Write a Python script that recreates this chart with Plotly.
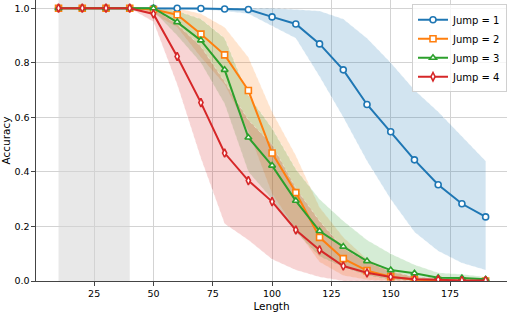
import plotly.graph_objects as go

lengths = [10, 20, 30, 40, 50, 60, 70, 80, 90, 100, 110, 120, 130, 140, 150, 160, 170, 180, 190]

jump1_mean = [1.0, 1.0, 1.0, 1.0, 1.0, 1.0, 0.999, 0.997, 0.995, 0.968, 0.942, 0.869, 0.774, 0.647, 0.547, 0.444, 0.353, 0.283, 0.235]
jump1_low  = [1.0, 1.0, 1.0, 1.0, 1.0, 0.998, 0.995, 0.99, 0.98, 0.935, 0.89, 0.75, 0.60, 0.44, 0.30, 0.18, 0.11, 0.066, 0.04]
jump1_high = [1.0, 1.0, 1.0, 1.0, 1.0, 1.0, 1.0, 1.0, 1.0, 1.0, 0.995, 0.99, 0.96, 0.89, 0.80, 0.70, 0.62, 0.53, 0.44]

jump2_mean = [1.0, 1.0, 1.0, 1.0, 0.995, 0.976, 0.905, 0.829, 0.698, 0.469, 0.324, 0.160, 0.082, 0.038, 0.016, 0.005, 0.002, 0.001, 0.0]
jump2_low  = [1.0, 1.0, 1.0, 1.0, 0.98, 0.93, 0.82, 0.72, 0.55, 0.32, 0.19, 0.07, 0.02, 0.005, 0.0, 0.0, 0.0, 0.0, 0.0]
jump2_high = [1.0, 1.0, 1.0, 1.0, 1.0, 1.0, 0.98, 0.93, 0.82, 0.62, 0.46, 0.27, 0.16, 0.08, 0.04, 0.015, 0.006, 0.003, 0.001]

jump3_mean = [1.0, 1.0, 1.0, 1.0, 1.0, 0.949, 0.882, 0.774, 0.526, 0.423, 0.294, 0.183, 0.126, 0.073, 0.040, 0.028, 0.012, 0.011, 0.006]
jump3_low  = [1.0, 1.0, 1.0, 1.0, 0.99, 0.90, 0.80, 0.65, 0.40, 0.30, 0.18, 0.09, 0.05, 0.02, 0.005, 0.0, 0.0, 0.0, 0.0]
jump3_high = [1.0, 1.0, 1.0, 1.0, 1.0, 0.99, 0.96, 0.89, 0.68, 0.56, 0.41, 0.30, 0.22, 0.15, 0.10, 0.06, 0.03, 0.025, 0.015]

jump4_mean = [1.0, 1.0, 1.0, 1.0, 0.979, 0.823, 0.654, 0.469, 0.368, 0.291, 0.187, 0.114, 0.055, 0.030, 0.015, 0.006, 0.005, 0.002, 0.002]
jump4_low  = [1.0, 1.0, 1.0, 1.0, 0.95, 0.72, 0.45, 0.21, 0.15, 0.08, 0.04, 0.015, 0.0, 0.0, 0.0, 0.0, 0.0, 0.0, 0.0]
jump4_high = [1.0, 1.0, 1.0, 1.0, 1.0, 0.94, 0.86, 0.73, 0.59, 0.50, 0.34, 0.22, 0.12, 0.07, 0.035, 0.015, 0.012, 0.006, 0.005]

series_names = ["Jump = 1", "Jump = 2", "Jump = 3", "Jump = 4"]
colors = ["#1f77b4", "#ff7f0e", "#2ca02c", "#d62728"]
fills = ["rgba(31,119,180,0.2)", "rgba(255,127,14,0.2)", "rgba(44,160,44,0.2)", "rgba(214,39,40,0.2)"]
symbols = ["circle", "square", "triangle-up", "diamond-tall"]
means = [jump1_mean, jump2_mean, jump3_mean, jump4_mean]
lows = [jump1_low, jump2_low, jump3_low, jump4_low]
highs = [jump1_high, jump2_high, jump3_high, jump4_high]

train_span = [10, 40]

fig = go.Figure()

for i in range(4):
    fig.add_trace(go.Scatter(x=lengths, y=lows[i], mode="lines",
                             line=dict(width=0.8, color="rgba(255,255,255,0.5)", dash="dot"),
                             showlegend=False, hoverinfo="skip"))
    fig.add_trace(go.Scatter(x=lengths, y=highs[i], mode="lines", fill="tonexty",
                             fillcolor=fills[i],
                             line=dict(width=0.8, color="rgba(255,255,255,0.5)", dash="dot"),
                             showlegend=False, hoverinfo="skip"))

for i in range(4):
    fig.add_trace(go.Scatter(x=lengths, y=means[i], mode="lines+markers", name=series_names[i],
                             line=dict(color=colors[i], width=2),
                             marker=dict(symbol=symbols[i], size=6, color="white",
                                         line=dict(color=colors[i], width=1.6))))

fig.add_shape(type="rect", xref="x", yref="paper", x0=train_span[0], x1=train_span[1], y0=0, y1=1,
              fillcolor="#e8e8e8", line=dict(width=0), layer="below")

font = "DejaVu Sans, sans-serif"
fig.update_layout(
    width=510, height=314,
    margin=dict(l=36, r=3, t=0, b=33),
    paper_bgcolor="white", plot_bgcolor="white",
    font=dict(family=font, size=9.5, color="black"),
    showlegend=True,
    legend=dict(x=1.0, xanchor="right", y=0.985, yanchor="top", traceorder="normal",
                bgcolor="rgba(255,255,255,0.8)", bordercolor="#d0d0d0", borderwidth=1,
                font=dict(size=10), itemwidth=30, tracegroupgap=0),
)
fig.update_xaxes(range=[0.5, 199], tickvals=[25, 50, 75, 100, 125, 150, 175],
                 showgrid=True, gridcolor="#d3d3d3", gridwidth=1,
                 showline=True, linecolor="#444", linewidth=1.2,
                 ticks="outside", ticklen=3.5, tickcolor="#444",
                 zeroline=False,
                 title=dict(text="Length", font=dict(size=10.5), standoff=4))
fig.update_yaxes(range=[0, 1.03], tickvals=[0, 0.2, 0.4, 0.6, 0.8, 1.0], tickformat=".1f",
                 showgrid=True, gridcolor="#d3d3d3", gridwidth=1,
                 showline=True, linecolor="#444", linewidth=1.2,
                 ticks="outside", ticklen=3.5, tickcolor="#444",
                 zeroline=False,
                 title=dict(text="Accuracy", font=dict(size=10.5), standoff=4))

fig.write_html("out.html", config={"displayModeBar": False},
               post_script="document.body.style.margin='0';")
